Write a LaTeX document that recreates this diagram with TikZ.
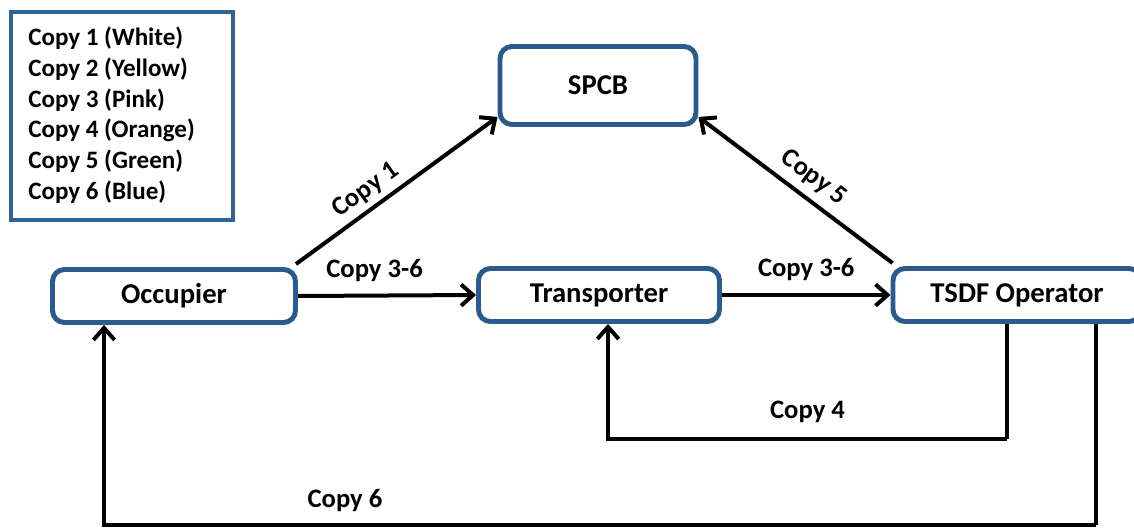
\documentclass[tikz,border=0pt]{standalone}
\usepackage{fontspec}
\setmainfont{Carlito}
\usetikzlibrary{arrows.meta}
\definecolor{boxblue}{HTML}{2B5A8C}
\definecolor{legblue}{HTML}{30639A}
\begin{document}
\begin{tikzpicture}[x=0.75pt,y=-0.75pt,
  ent/.style={draw=boxblue, line width=3.7pt, rounded corners=9pt, fill=white,
     inner sep=0pt, font=\fontsize{21.5}{25}\selectfont\bfseries},
  arr/.style={draw=black, line width=3pt, -{Straight Barb[length=9pt,width=16pt]}},
  ln/.style={draw=black, line width=3pt},
  lbl/.style={font=\fontsize{20}{24}\selectfont\bfseries, inner sep=0pt}]
\useasboundingbox (0,0) rectangle (1134,529);
% legend
\node[draw=legblue, line width=3pt, minimum width=222*0.75pt, minimum height=208*0.75pt, inner sep=0pt] (legend) at (121.5,116) {};
\node[anchor=north west, align=left, inner sep=0pt, font=\fontsize{18.8}{23}\selectfont\bfseries] (legtext) at (28,27)
 {Copy 1 (White)\\Copy 2 (Yellow)\\Copy 3 (Pink)\\Copy 4 (Orange)\\Copy 5 (Green)\\Copy 6 (Blue)};
% entities
\node[ent, minimum width=196*0.75pt, minimum height=78*0.75pt] (spcb) at (598,85.5) {SPCB};
\node[ent, minimum width=243*0.75pt, minimum height=53*0.75pt] (occ) at (174,296) {Occupier};
\node[ent, minimum width=241*0.75pt, minimum height=53*0.75pt] (trans) at (599,295) {Transporter};
\node[ent, minimum width=248*0.75pt, minimum height=53*0.75pt] (tsdf) at (1017,295) {TSDF Operator};
% coordinates
\coordinate (c4r) at (1007,439);
\coordinate (c4l) at (608,439);
\coordinate (c6r) at (1096,525);
\coordinate (c6l) at (104,525);
% diagonal arrows
\draw[arr] ([shift={(-2,-3)}]occ.north east) -- node[lbl, sloped, above=4pt, pos=0.4] {Copy 1} ([shift={(0,-10)}]spcb.south west);
\draw[arr] ([shift={(2,-3)}]tsdf.north west) -- node[lbl, sloped, above=6pt, pos=0.47] {Copy 5} ([shift={(0,-10)}]spcb.south east);
% horizontal arrows
\draw[arr] (occ.east) -- node[lbl, above=9pt, pos=0.43] {Copy 3-6} (trans.west);
\draw[arr] (trans.east) -- node[lbl, above=9pt, pos=0.5] {Copy 3-6} (tsdf.west);
% return arrows
\draw[ln] (tsdf.south -| c4r) -- (c4r);
\draw[arr] (c4r) -- node[lbl, above=11pt] {Copy 4} (c4l) -- (trans.south -| c4l);
\draw[ln] (tsdf.south -| c6r) -- (c6r);
\draw[arr] (c6r) -- (c6l) -- (occ.south -| c6l);
\node[lbl] (l6) at (345,500) {Copy 6};
\end{tikzpicture}
\end{document}
